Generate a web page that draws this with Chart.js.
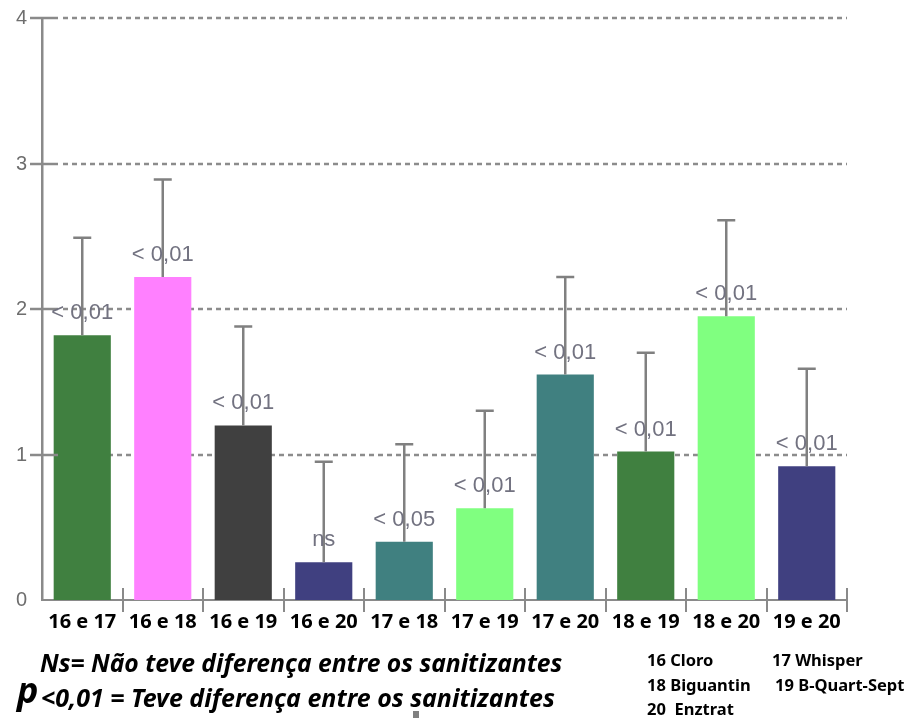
<!DOCTYPE html>
<html>
<head>
<meta charset="utf-8">
<script src="https://cdn.jsdelivr.net/npm/chart.js@4.4.1/dist/chart.umd.min.js"></script>
<style>
  body { margin: 0; background: #fff; }
  #wrap { position: relative; width: 919px; height: 718px; }
  .note { position: absolute; font-family: "Noto Sans", sans-serif; font-weight: 700; font-style: italic; color: #000; white-space: nowrap; line-height: 1; }
  .leg { position: absolute; font-family: "Noto Sans", sans-serif; font-weight: 700; font-size: 16.5px; color: #000; white-space: nowrap; line-height: 1; }
</style>
</head>
<body>
<div id="wrap">
  <canvas id="chart" width="919" height="718"></canvas>
  <div class="note" style="left:40px; top:651px; font-size:24.7px;">Ns= Não teve diferença entre os sanitizantes</div>
  <div class="note" style="left:17px; top:672px; font-size:36px;">p</div>
  <div class="note" style="left:41px; top:685px; font-size:25px;">&lt;0,01 = Teve diferença entre os sanitizantes</div>
  <div class="leg" style="left:647px; top:652px;">16 Cloro</div>
  <div class="leg" style="left:772px; top:652px;">17 Whisper</div>
  <div class="leg" style="left:647px; top:677px;">18 Biguantin</div>
  <div class="leg" style="left:775px; top:677px;">19 B-Quart-Sept</div>
  <div class="leg" style="left:647px; top:701px;">20&nbsp; Enztrat</div>
  <div style="position:absolute; left:413px; top:711px; width:6px; height:7px; background:#808080;"></div>
</div>
<script>
// comparações entre sanitizantes
const categorias = ['16 e 17', '16 e 18', '16 e 19', '16 e 20', '17 e 18', '17 e 19', '17 e 20', '18 e 19', '18 e 20', '19 e 20'];
const medias = [1.82, 2.22, 1.20, 0.26, 0.40, 0.63, 1.55, 1.02, 1.95, 0.92];
const erros = [0.67, 0.67, 0.68, 0.69, 0.67, 0.67, 0.67, 0.68, 0.66, 0.67];
const significancia = ['< 0,01', '< 0,01', '< 0,01', 'ns', '< 0,05', '< 0,01', '< 0,01', '< 0,01', '< 0,01', '< 0,01'];
const cores = ['#408040', '#ff80ff', '#404040', '#404080', '#408080', '#80ff80', '#408080', '#408040', '#80ff80', '#404080'];
const yTicks = [0, 1, 2, 3, 4];

const AXIS_COLOR = '#8a8a8a';

// dotted grid lines behind the bars
const gridPlugin = {
  id: 'gridPontilhado',
  beforeDatasetsDraw(chart) {
    const { ctx, chartArea, scales: { y } } = chart;
    ctx.save();
    ctx.strokeStyle = '#8c8c8c';
    ctx.lineWidth = 2.5;
    ctx.setLineDash([5, 4]);
    yTicks.forEach(v => {
      if (v === 0) return;
      const py = Math.round(y.getPixelForValue(v));
      ctx.beginPath();
      ctx.moveTo(chartArea.left + 21, py);
      ctx.lineTo(chartArea.right, py);
      ctx.stroke();
    });
    ctx.restore();
  }
};

// error bars, p-value labels, y labels and axis tick marks
const extrasPlugin = {
  id: 'extras',
  afterDatasetsDraw(chart) {
    const { ctx, chartArea, scales: { x, y } } = chart;
    const meta = chart.getDatasetMeta(0);
    ctx.save();

    // y tick labels + tick marks crossing the axis
    ctx.strokeStyle = AXIS_COLOR;
    ctx.lineWidth = 2.5;
    ctx.fillStyle = '#6e6e6e';
    ctx.font = '20px "Liberation Sans", Arial, sans-serif';
    ctx.textAlign = 'right';
    ctx.textBaseline = 'middle';
    yTicks.forEach(v => {
      const py = Math.round(y.getPixelForValue(v));
      ctx.fillText(String(v), chartArea.left - 15, py);
      if (v === 0) return;
      ctx.beginPath();
      ctx.moveTo(chartArea.left - 12, py);
      ctx.lineTo(chartArea.left + 16, py);
      ctx.stroke();
    });

    // tick marks on x axis at category boundaries
    ctx.lineWidth = 2;
    const step = (chartArea.right - chartArea.left) / categorias.length;
    for (let i = 1; i <= categorias.length; i++) {
      const px = Math.round(chartArea.left + step * i);
      ctx.beginPath();
      ctx.moveTo(px, chartArea.bottom - 12);
      ctx.lineTo(px, chartArea.bottom + 12);
      ctx.stroke();
    }

    // error bars (upper only)
    ctx.strokeStyle = '#808080';
    ctx.lineWidth = 2.5;
    meta.data.forEach((bar, i) => {
      const top = y.getPixelForValue(medias[i] + erros[i]);
      ctx.beginPath();
      ctx.moveTo(bar.x, bar.y);
      ctx.lineTo(bar.x, top);
      ctx.moveTo(bar.x - 9, top);
      ctx.lineTo(bar.x + 9, top);
      ctx.stroke();
    });

    // significance labels
    ctx.fillStyle = '#727280';
    ctx.font = '22px "Liberation Sans", Arial, sans-serif';
    ctx.textAlign = 'center';
    meta.data.forEach((bar, i) => {
      ctx.fillText(significancia[i], bar.x, bar.y - 22);
    });
    ctx.restore();
  }
};

new Chart(document.getElementById('chart'), {
  type: 'bar',
  data: {
    labels: categorias,
    datasets: [{
      data: medias,
      backgroundColor: cores,
      borderWidth: 0,
      barPercentage: 0.71,
      categoryPercentage: 1
    }]
  },
  options: {
    responsive: false,
    animation: false,
    layout: { padding: { left: 0, right: 72, top: 18, bottom: 78 } },
    plugins: { legend: { display: false }, tooltip: { enabled: false } },
    scales: {
      x: {
        grid: { display: false, drawTicks: false },
        border: { display: true, color: AXIS_COLOR, width: 2 },
        ticks: {
          padding: 10,
          color: '#000',
          font: { family: '"Noto Sans", sans-serif', size: 20, weight: 'bold' },
          maxRotation: 0,
          autoSkip: false
        },
        afterFit(scale) { scale.height = 40; }
      },
      y: {
        min: 0,
        max: 4,
        grid: { display: false, drawTicks: false },
        border: { display: true, color: AXIS_COLOR, width: 2.5 },
        ticks: { display: false, stepSize: 1 },
        afterFit(scale) { scale.width = 42; }
      }
    }
  },
  plugins: [gridPlugin, extrasPlugin]
});
</script>
</body>
</html>
